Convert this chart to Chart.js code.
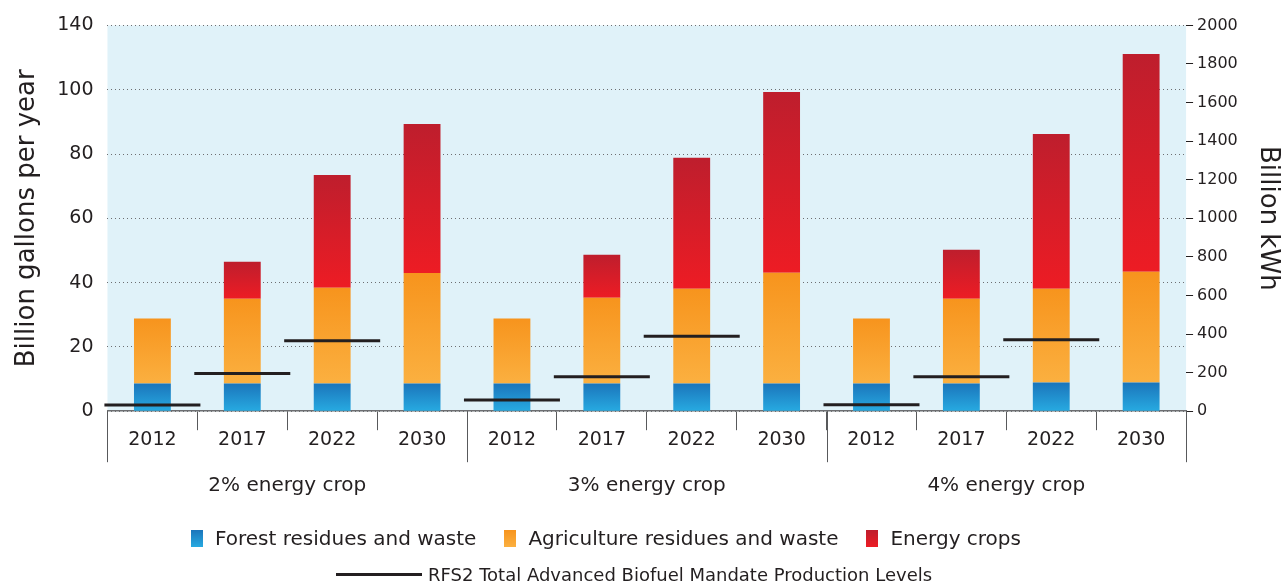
<!DOCTYPE html>
<html>
<head>
<meta charset="utf-8">
<script src="https://cdn.jsdelivr.net/npm/chart.js@4.4.1/dist/chart.umd.min.js"></script>
<style>
  body { margin: 0; background: #fff; }
  #wrap { position: relative; width: 1286px; height: 584px; font-family: 'DejaVu Sans', sans-serif; color: #231F20; }
  .row { position: absolute; display: flex; align-items: center; white-space: nowrap; }
  .box { display: inline-block; width: 12px; height: 17px; margin-right: 12px; }
  .item { display: flex; align-items: center; font-size: 20px; margin-right: 28px; }
  .rline { display: inline-block; width: 86px; height: 3px; background: #231F20; margin-right: 6px; }
</style>
</head>
<body>
<div id="wrap">
  <canvas id="chart"></canvas>
  <div class="row" style="left:191px; top:526px;">
    <span class="item"><span class="box" style="background:linear-gradient(#1B75BB,#27AAE1)"></span>Forest residues and waste</span>
    <span class="item"><span class="box" style="background:linear-gradient(#F7941D,#FBB040)"></span>Agriculture residues and waste</span>
    <span class="item"><span class="box" style="background:linear-gradient(#BE1E2D,#ED1C24)"></span>Energy crops</span>
  </div>
  <div class="row" style="left:336px; top:564px; font-size:18px;">
    <span class="rline"></span>RFS2 Total Advanced Biofuel Mandate Production Levels
  </div>
</div>
<script>
// --- data ---
const years = ['2012', '2017', '2022', '2030', '2012', '2017', '2022', '2030', '2012', '2017', '2022', '2030'];
const groupLabels = ['2% energy crop', '3% energy crop', '4% energy crop'];
const forest = [8.6, 8.6, 8.6, 8.6, 8.6, 8.6, 8.6, 8.6, 8.6, 8.6, 8.9, 8.9];
const agriculture = [20.2, 26.4, 29.8, 34.4, 20.2, 26.7, 29.5, 34.5, 20.2, 26.4, 29.2, 34.5];
const energyCrops = [0, 11.5, 35.1, 46.3, 0, 13.4, 40.7, 56.2, 0, 15.2, 48.1, 67.7];
const rfs2 = [1.9, 11.7, 21.9, null, 3.5, 10.7, 23.3, null, 2.0, 10.7, 22.2, null];
const leftTickLabels = ['0', '20', '40', '60', '80', '100', '140'];

const FONT = "'DejaVu Sans', sans-serif";
const INK = '#231F20';

// vertical gradient per stacked bar segment
function barGradient(top, bottom) {
    return (c) => {
        const chart = c.chart;
        if (c.type !== 'data' || !chart.chartArea) return bottom;
        const ys = chart.scales.y;
        let start = 0;
        for (let d = 0; d < c.datasetIndex; d++) start += chart.data.datasets[d].data[c.dataIndex] || 0;
        const end = start + (chart.data.datasets[c.datasetIndex].data[c.dataIndex] || 0);
        const y0 = ys.getPixelForValue(end), y1 = ys.getPixelForValue(start);
        if (!(y1 > y0)) return bottom;
        const g = chart.ctx.createLinearGradient(0, y0, 0, y1);
        g.addColorStop(0, top);
        g.addColorStop(1, bottom);
        return g;
    };
}

// light blue plot background + long group separators under the axis
const plotDecor = {
    id: 'plotDecor',
    beforeDraw(chart) {
        const { ctx, chartArea: a } = chart;
        ctx.save();
        ctx.fillStyle = '#E0F2F9';
        ctx.fillRect(a.left, a.top, a.right - a.left, a.bottom - a.top);
        ctx.restore();
    },
    afterDraw(chart) {
        const { ctx, chartArea: a } = chart;
        const x = chart.scales.x;
        const step = x.width / years.length;
        ctx.save();
        ctx.strokeStyle = '#58595B';
        ctx.lineWidth = 1;
        for (let i = 0; i <= years.length; i += 4) {
            const px = Math.round(x.left + i * step) + 0.5;
            ctx.beginPath();
            ctx.moveTo(px, a.bottom);
            ctx.lineTo(px, a.bottom + 51);
            ctx.stroke();
        }
        ctx.restore();
    }
};

new Chart(document.getElementById('chart'), {
    type: 'bar',
    data: {
        labels: years,
        datasets: [
            { label: 'Forest residues and waste', data: forest, stack: 'bio', backgroundColor: barGradient('#1B75BB', '#27AAE1'), order: 1 },
            { label: 'Agriculture residues and waste', data: agriculture, stack: 'bio', backgroundColor: barGradient('#F7941D', '#FBB040'), order: 1 },
            { label: 'Energy crops', data: energyCrops, stack: 'bio', backgroundColor: barGradient('#BE1E2D', '#ED1C24'), order: 1 },
            {
                type: 'line', label: 'RFS2 Total Advanced Biofuel Mandate Production Levels', data: rfs2, stack: 'rfs',
                showLine: false, pointStyle: 'line', pointRadius: 48, pointHoverRadius: 48,
                borderColor: INK, borderWidth: 3, order: 0, clip: false
            }
        ]
    },
    options: {
        responsive: true,
        maintainAspectRatio: false,
        animation: false,
        events: [],
        layout: { autoPadding: false, padding: { top: 13, bottom: 61, left: 0, right: 0 } },
        datasets: { bar: { barPercentage: 0.41, categoryPercentage: 1 } },
        plugins: { legend: { display: false }, tooltip: { enabled: false } },
        scales: {
            x: {
                stacked: true,
                offset: true,
                grid: { offset: true, drawOnChartArea: false, drawTicks: true, tickLength: 19, tickColor: '#58595B' },
                border: { display: true, color: '#6D6E71', width: 1.5 },
                ticks: { color: INK, font: { family: FONT, size: 19 }, padding: -2, maxRotation: 0 }
            },
            groups: {
                type: 'category',
                position: 'bottom',
                labels: groupLabels,
                offset: true,
                grid: { display: false, drawTicks: false },
                border: { display: false },
                ticks: { color: INK, font: { family: FONT, size: 20 }, padding: 25 }
            },
            y: {
                stacked: true,
                min: 0, max: 120,
                ticks: {
                    stepSize: 20, padding: 14, color: INK, font: { family: FONT, size: 19 },
                    callback: (v, i) => leftTickLabels[i]
                },
                grid: { color: '#6D6E71', lineWidth: 1, drawTicks: false },
                border: { display: false, dash: [1, 3] },
                title: { display: true, text: 'Billion gallons per year', color: INK, font: { family: FONT, size: 26 }, padding: { top: 12, bottom: 0 } }
            },
            y1: {
                position: 'right',
                min: 0, max: 2000,
                ticks: { stepSize: 200, padding: 4, color: INK, font: { family: FONT, size: 16 }, callback: (v) => String(v) },
                grid: { drawOnChartArea: false, drawTicks: true, tickLength: 7, tickColor: INK },
                border: { display: false },
                title: { display: true, text: 'Billion kWh', color: INK, font: { family: FONT, size: 26 }, padding: { top: 3, bottom: 10 } }
            }
        }
    },
    plugins: [plotDecor]
});
</script>
</body>
</html>
